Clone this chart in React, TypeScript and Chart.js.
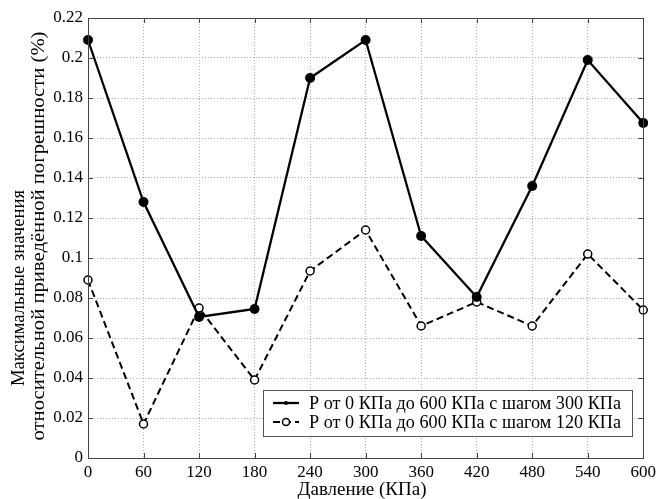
import React, { useEffect, useRef } from "react";
import { Chart, registerables } from "chart.js";

Chart.register(...registerables);

const xLabels = ["0", "60", "120", "180", "240", "300", "360", "420", "480", "540", "600"];
const series300 = [0.209, 0.128, 0.0705, 0.0745, 0.19, 0.209, 0.111, 0.0805, 0.136, 0.199, 0.1675];
const series120 = [0.089, 0.017, 0.075, 0.039, 0.0935, 0.114, 0.066, 0.078, 0.066, 0.102, 0.074];
const yTickLabels = ["0", "0.02", "0.04", "0.06", "0.08", "0.1", "0.12", "0.14", "0.16", "0.18", "0.2", "0.22"];
const seriesNames = [
  "Р от 0 КПа до 600 КПа с шагом 300 КПа",
  "Р от 0 КПа до 600 КПа с шагом 120 КПа",
];
const yTitle = ["Максимальные значения", "относительной приведённой погрешности (%)"];
const xTitle = "Давление (КПа)";

const FONT = "'Liberation Serif', 'Times New Roman', serif";

function fitText(ctx: any, text: string, cx: number, cy: number, width: number, rot: number) {
  ctx.save();
  ctx.translate(cx, cy);
  if (rot) ctx.rotate(rot);
  const m = ctx.measureText(text).width;
  ctx.scale(width / m, 1);
  ctx.textAlign = "center";
  ctx.textBaseline = "middle";
  ctx.fillText(text, 0, 0);
  ctx.restore();
}

const boxPlugin = {
  id: "matlabBox",
  afterDatasetsDraw(chart: any) {
    const { ctx, chartArea: a, scales } = chart;
    ctx.save();
    ctx.strokeStyle = "#444";
    ctx.lineWidth = 1;
    const xs = scales.x;
    const ys = scales.y;
    const tl = 5;
    xs.ticks.forEach((_t: any, i: number) => {
      const px = Math.round(xs.getPixelForTick(i)) + 0.5;
      ctx.beginPath();
      ctx.moveTo(px, a.bottom);
      ctx.lineTo(px, a.bottom - tl);
      ctx.moveTo(px, a.top);
      ctx.lineTo(px, a.top + tl);
      ctx.stroke();
    });
    ys.ticks.forEach((_t: any, i: number) => {
      const py = Math.round(ys.getPixelForTick(i)) + 0.5;
      ctx.beginPath();
      ctx.moveTo(a.left, py);
      ctx.lineTo(a.left + tl, py);
      ctx.moveTo(a.right, py);
      ctx.lineTo(a.right - tl, py);
      ctx.stroke();
    });
    ctx.strokeRect(Math.round(a.left) + 0.5, Math.round(a.top) + 0.5, Math.round(a.right - a.left), Math.round(a.bottom - a.top));

    // titles
    ctx.fillStyle = "#000";
    ctx.font = `18px ${FONT}`;
    fitText(ctx, yTitle[0], 19, 288, 196, -Math.PI / 2);
    fitText(ctx, yTitle[1], 39, 236, 409, -Math.PI / 2);
    fitText(ctx, xTitle, 362, 490, 129, 0);

    // legend
    const bx = 263.5, by = 390.5, bw = 369, bh = 46;
    ctx.fillStyle = "#fff";
    ctx.fillRect(bx, by, bw, bh);
    ctx.strokeStyle = "#555";
    ctx.lineWidth = 1;
    ctx.strokeRect(bx, by, bw, bh);
    ctx.font = `18px ${FONT}`;
    const rows = [403, 422];
    chart.data.datasets.forEach((ds: any, i: number) => {
      const y = rows[i];
      ctx.strokeStyle = "#000";
      ctx.lineWidth = ds.borderWidth;
      ctx.setLineDash(ds.borderDash || []);
      ctx.beginPath();
      ctx.moveTo(273, y);
      ctx.lineTo(299, y);
      ctx.stroke();
      ctx.setLineDash([]);
      ctx.beginPath();
      if (i === 0) {
        ctx.fillStyle = "#000";
        ctx.arc(286, y, 2, 0, Math.PI * 2);
        ctx.fill();
      } else {
        ctx.fillStyle = "#fff";
        ctx.lineWidth = 1.5;
        ctx.arc(286, y, 3.5, 0, Math.PI * 2);
        ctx.fill();
        ctx.stroke();
      }
      ctx.fillStyle = "#000";
      fitText(ctx, seriesNames[i], 309 + 156, y + 1, 312, 0);
    });
    ctx.restore();
  },
};

export default function App() {
  const ref = useRef<HTMLCanvasElement | null>(null);
  useEffect(() => {
    document.body.style.margin = "0";
    const c = new Chart(ref.current as HTMLCanvasElement, {
      type: "line",
      data: {
        labels: xLabels,
        datasets: [
          {
            label: seriesNames[0],
            data: series300,
            borderColor: "#000",
            backgroundColor: "#000",
            borderWidth: 2.3,
            pointRadius: 5,
            pointBackgroundColor: "#000",
            pointBorderColor: "#000",
            pointBorderWidth: 0,
            tension: 0,
          },
          {
            label: seriesNames[1],
            data: series120,
            borderColor: "#000",
            backgroundColor: "#fff",
            borderWidth: 2,
            borderDash: [7, 4],
            pointRadius: 4,
            pointBackgroundColor: "#fff",
            pointBorderColor: "#000",
            pointBorderWidth: 1.5,
            tension: 0,
          },
        ],
      },
      options: {
        animation: false,
        responsive: false,
        layout: { padding: { left: 0, top: 18, right: 14, bottom: 0 } },
        plugins: {
          legend: { display: false },
          tooltip: { enabled: false },
        },
        scales: {
          x: {
            type: "category",
            offset: false,
            grid: {
              color: "#b0b0b0",
              lineWidth: 1,
              drawTicks: false,
              tickLength: 0,
            },
            border: { display: false, dash: [1, 2] },
            ticks: {
              color: "#000",
              font: { family: FONT, size: 17 },
              padding: 4,
              maxRotation: 0,
              autoSkip: false,
            },
            afterFit(s: any) {
              s.height = 41;
            },
          },
          y: {
            type: "linear",
            min: 0,
            max: 0.22,
            ticks: {
              stepSize: 0.02,
              color: "#000",
              font: { family: FONT, size: 17 },
              padding: 5,
              callback: (_v: any, i: number) => yTickLabels[i],
            },
            grid: {
              color: "#b0b0b0",
              lineWidth: 1,
              drawTicks: false,
              tickLength: 0,
            },
            border: { display: false, dash: [1, 2] },
            afterFit(s: any) {
              s.width = 88;
            },
          },
        },
      } as any,
      plugins: [boxPlugin],
    });
    return () => c.destroy();
  }, []);
  return <canvas ref={ref} width={660} height={499} style={{ display: "block" }} />;
}
